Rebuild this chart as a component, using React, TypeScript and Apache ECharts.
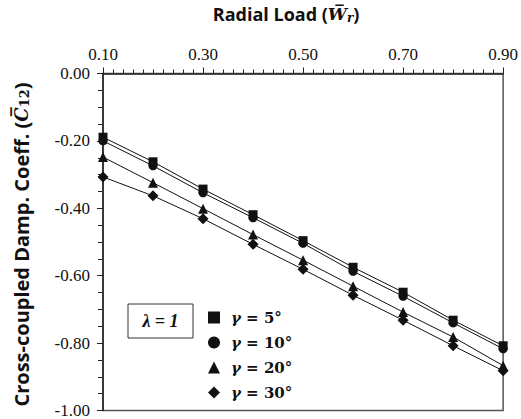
import React, { useEffect, useRef } from "react";
import * as echarts from "echarts";

const xValues = [0.1, 0.2, 0.3, 0.4, 0.5, 0.6, 0.7, 0.8, 0.9];
const seriesNames = ["γ = 5°", "γ = 10°", "γ = 20°", "γ = 30°"];
const gamma5 = [-0.189, -0.262, -0.343, -0.419, -0.496, -0.575, -0.649, -0.732, -0.808];
const gamma10 = [-0.2, -0.274, -0.354, -0.428, -0.504, -0.587, -0.661, -0.74, -0.817];
const gamma20 = [-0.248, -0.324, -0.401, -0.478, -0.554, -0.631, -0.708, -0.782, -0.867];
const gamma30 = [-0.307, -0.363, -0.431, -0.507, -0.581, -0.658, -0.732, -0.808, -0.882];
const symbols = ["rect", "circle", "triangle", "diamond"];
const symbolSizes = [9, 9, 10, 11];

export default function App() {
  const ref = useRef<HTMLDivElement>(null);
  useEffect(() => {
    if (!ref.current) return;
    const chart = echarts.init(ref.current, undefined, { renderer: "svg" });
    const all = [gamma5, gamma10, gamma20, gamma30];
    const sans = "Open Sans";
    const serif = "Times New Roman, Liberation Serif, serif";
    const mathSerif = "DejaVu Serif";
    chart.setOption({
      animation: false,
      backgroundColor: "#fff",
      grid: {
        left: 103,
        right: 17,
        top: 73,
        bottom: 7,
        show: true,
        borderColor: "#555",
        borderWidth: 1.5,
        backgroundColor: "transparent",
      },
      xAxis: {
        type: "value",
        position: "top",
        min: 0.1,
        max: 0.9,
        interval: 0.2,
        name: "{a|Radial Load (}{w|W\u0305}{s|r}{a|)}",
        nameLocation: "middle",
        nameGap: 50,
        nameTextStyle: {
          padding: [0, 34, 0, 0],
          rich: {
            a: { fontFamily: sans, fontWeight: "bold", fontSize: 18, color: "#111" },
            w: { fontFamily: mathSerif, fontStyle: "italic", fontWeight: "bold", fontSize: 17, color: "#111" },
            s: { fontFamily: mathSerif, fontStyle: "italic", fontWeight: "bold", fontSize: 12, color: "#111", padding: [7, 0, 0, 0] },
          },
        },
        axisLine: { show: true, lineStyle: { color: "#222", width: 1.5 } },
        axisTick: { show: true, inside: false, length: 6, lineStyle: { color: "#222", width: 1 } },
        minorTick: { show: true, splitNumber: 10, length: 4, lineStyle: { color: "#222", width: 1 } },
        splitLine: { show: false },
        minorSplitLine: { show: false },
        axisLabel: {
          fontFamily: serif,
          fontSize: 17,
          color: "#111",
          margin: 11,
          formatter: (v: number) => v.toFixed(2),
        },
      },
      yAxis: {
        type: "value",
        min: -1,
        max: 0,
        interval: 0.2,
        name: "{a|Cross-coupled Damp. Coeff. (}{c|C\u0305}{s|12}{a|)}",
        nameLocation: "middle",
        nameGap: 72,
        nameRotate: 90,
        nameTextStyle: {
          padding: [0, 5, 0, 0],
          rich: {
            a: { fontFamily: sans, fontWeight: "bold", fontSize: 20, color: "#111" },
            c: { fontFamily: mathSerif, fontStyle: "italic", fontWeight: "bold", fontSize: 18, color: "#111" },
            s: { fontFamily: mathSerif, fontWeight: "bold", fontSize: 13, color: "#111", padding: [7, 0, 0, 0] },
          },
        },
        axisLine: { show: true, lineStyle: { color: "#222", width: 1.5 } },
        axisTick: { show: true, inside: false, length: 6, lineStyle: { color: "#222", width: 1 } },
        minorTick: { show: true, splitNumber: 4, length: 5, lineStyle: { color: "#222", width: 1 } },
        splitLine: { show: false },
        minorSplitLine: { show: false },
        axisLabel: {
          fontFamily: serif,
          fontSize: 17,
          color: "#111",
          margin: 13,
          formatter: (v: number) => v.toFixed(2),
        },
      },
      legend: {
        show: true,
        orient: "vertical",
        left: 203,
        top: 300,
        itemWidth: 12,
        itemHeight: 12,
        itemGap: 0,
        data: seriesNames.map((n, i) => ({ name: n, icon: symbols[i] })),
        formatter: (name: string) => `{g|γ}{t|${name.slice(1)}}`,
        textStyle: {
          color: "#111",
          lineHeight: 25,
          padding: [0, 0, 0, 6],
          rich: {
            g: { fontFamily: mathSerif, fontStyle: "italic", fontWeight: "bold", fontSize: 15, lineHeight: 25, color: "#111" },
            t: { fontFamily: mathSerif, fontWeight: "bold", fontSize: 15, lineHeight: 25, color: "#111" },
          },
        },
      },
      graphic: [
        {
          type: "rect",
          shape: { x: 128, y: 304, width: 65, height: 34 },
          style: { fill: "#fff", stroke: "#333", lineWidth: 1 },
        },
        {
          type: "text",
          x: 160.5,
          y: 321,
          style: {
            text: "λ = 1",
            fontFamily: serif,
            fontStyle: "italic",
            fontWeight: "bold",
            fontSize: 18,
            fill: "#111",
            align: "center",
            verticalAlign: "middle",
          },
        },
      ],
      series: all.map((vals, i) => ({
        name: seriesNames[i],
        type: "line",
        data: xValues.map((x, j) => [x, vals[j]]),
        symbol: symbols[i],
        symbolSize: symbolSizes[i],
        showSymbol: true,
        lineStyle: { color: "#111", width: 1 },
        itemStyle: { color: "#111" },
        clip: false,
      })),
    });
    return () => chart.dispose();
  }, []);
  return <div ref={ref} style={{ width: 521, height: 419, position: "absolute", left: 0, top: 0 }} />;
}
